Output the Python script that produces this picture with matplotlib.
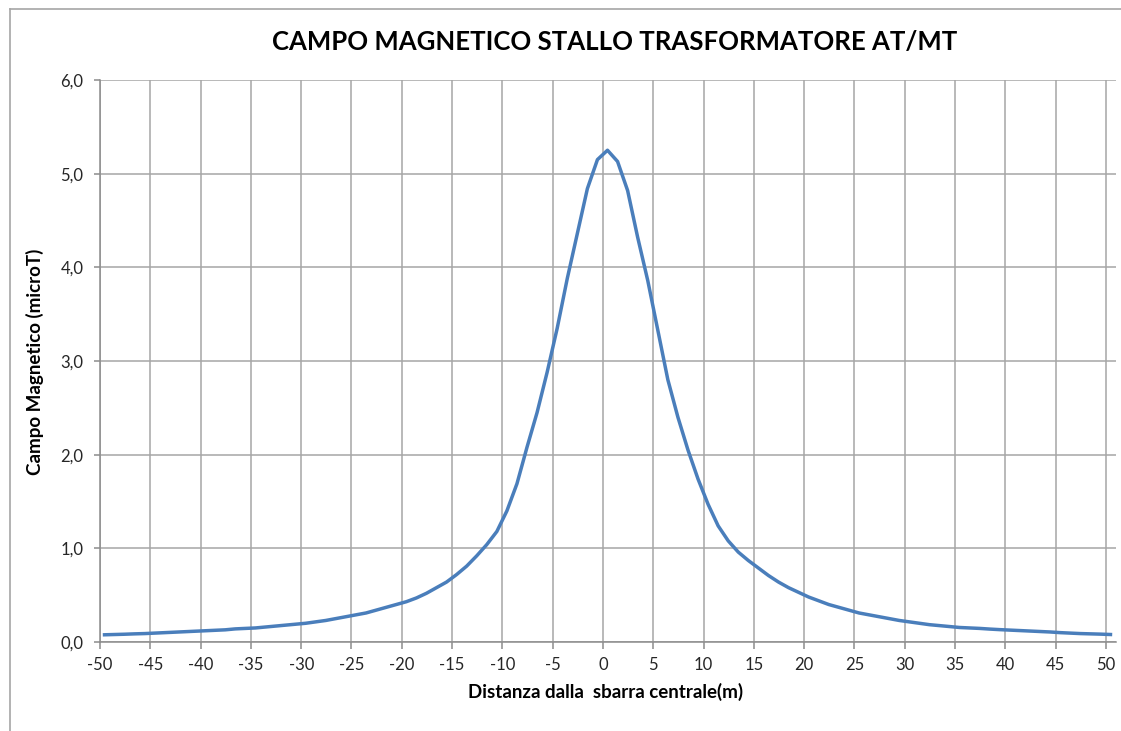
import numpy as np
import matplotlib

matplotlib.use("Agg")
import matplotlib.pyplot as plt
from matplotlib.lines import Line2D

# distance from the central busbar (m), one category per metre
distances = list(range(-50, 51))

# magnetic field (microT), from -50 m to +50 m
field_left = [
    0.077, 0.080, 0.083, 0.087, 0.090, 0.095, 0.100, 0.105, 0.110, 0.115,  # -50..-41
    0.120, 0.125, 0.130, 0.140, 0.145, 0.150, 0.160, 0.170, 0.180, 0.190,  # -40..-31
    0.200, 0.215, 0.230, 0.250, 0.270, 0.290, 0.310, 0.340, 0.370, 0.400,  # -30..-21
    0.430, 0.470, 0.520, 0.580, 0.640, 0.720, 0.810, 0.920, 1.040, 1.180,  # -20..-11
    1.400, 1.690, 2.080, 2.450, 2.880, 3.350, 3.880, 4.360, 4.840, 5.150,  # -10..-1
]
field_peak = [5.250]  # 0
field_right = [
    5.130, 4.820, 4.320, 3.860, 3.330, 2.800, 2.400, 2.050, 1.740, 1.470,  # 1..10
    1.240, 1.080, 0.960, 0.870, 0.790, 0.710, 0.640, 0.580, 0.530, 0.480,  # 11..20
    0.440, 0.400, 0.370, 0.340, 0.310, 0.290, 0.270, 0.250, 0.230, 0.215,  # 21..30
    0.200, 0.185, 0.175, 0.165, 0.155, 0.150, 0.145, 0.138, 0.132, 0.127,  # 31..40
    0.122, 0.117, 0.112, 0.107, 0.100, 0.095, 0.090, 0.087, 0.084, 0.080,  # 41..50
]
field = field_left + field_peak + field_right

x_ticks = list(range(-50, 51, 5))
y_ticks = [0, 1, 2, 3, 4, 5, 6]
y_labels = ["0,0", "1,0", "2,0", "3,0", "4,0", "5,0", "6,0"]

LINE_BLUE = "#4a7ebb"
GRID = "#a6a6a6"
AXIS = "#8c8c8c"
TEXT = "#262626"

plt.rcParams.update({
    "font.family": ["Lato", "DejaVu Sans"],
    "font.size": 12,
})

fig = plt.figure(figsize=(11.21, 7.31), dpi=100)
fig.patch.set_facecolor("white")
ax = fig.add_axes([100 / 1121, 89 / 731, 1016 / 1121, 562 / 731])

# Excel category axis: points sit in the middle of each one-metre slot
x_pos = np.array(distances) + 0.45
ax.plot(x_pos, field, color=LINE_BLUE, linewidth=2.5, solid_joinstyle="round", zorder=3)

ax.set_xlim(-50, 51)
ax.set_ylim(0, 6)
ax.set_xticks(x_ticks)
ax.set_xticklabels([str(v) for v in x_ticks])
ax.set_yticks(y_ticks)
ax.set_yticklabels(y_labels)
ax.grid(True, color=GRID, linewidth=1.1)
ax.set_axisbelow(True)

for side in ("top", "right"):
    ax.spines[side].set_visible(False)
for side in ("left", "bottom"):
    ax.spines[side].set_color(AXIS)
    ax.spines[side].set_linewidth(1.1)
ax.tick_params(axis="both", colors=AXIS, labelcolor=TEXT, width=1.1, labelsize=12)
ax.tick_params(axis="x", length=5, pad=6)
ax.tick_params(axis="y", length=4, pad=8)

fig.text(615 / 1121, 1 - 42 / 731, "CAMPO MAGNETICO STALLO TRASFORMATORE AT/MT",
         ha="center", va="center", fontsize=18.5, fontweight="bold", color="black")
fig.text(606 / 1121, 1 - 692 / 731, "Distanza dalla  sbarra centrale(m)",
         ha="center", va="center", fontsize=13.5, fontweight="bold", color="black")
fig.text(35 / 1121, 1 - 362 / 731, "Campo Magnetico (microT)", rotation=90,
         ha="center", va="center", fontsize=13.5, fontweight="bold", color="black")

# chart frame, partly cut off by the screenshot
fig.add_artist(Line2D([10 / 1121, 10 / 1121], [0, 1 - 9 / 731],
                      transform=fig.transFigure, color=GRID, linewidth=1.2))
fig.add_artist(Line2D([10 / 1121, 1], [1 - 9 / 731, 1 - 9 / 731],
                      transform=fig.transFigure, color=GRID, linewidth=1.2))

fig.savefig("out.png", dpi=100, facecolor="white")
